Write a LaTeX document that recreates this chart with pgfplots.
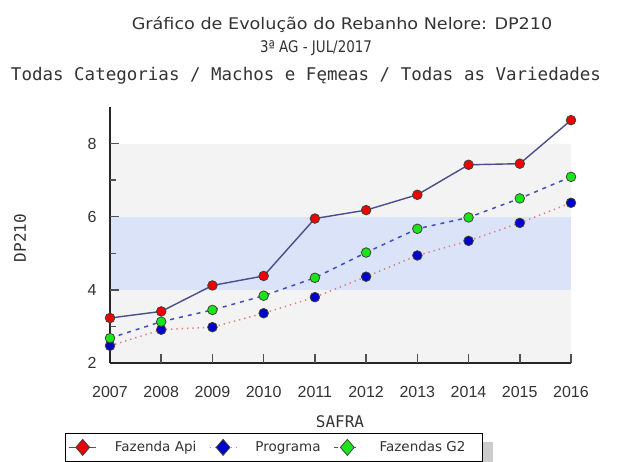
\documentclass[border=0pt]{standalone}
\usepackage{fontspec}
\setmainfont{DejaVu Sans}
\newfontfamily\titlef[FakeStretch=1.1]{DejaVu Sans}
\newfontfamily\titlecond[FakeStretch=0.84]{DejaVu Sans}
\newfontfamily\monof{DejaVu Sans Mono}
\newfontfamily\tickf{Liberation Sans}
\usepackage{pgfplots}
\pgfplotsset{compat=1.18}

\definecolor{bandgray}{HTML}{F3F3F3}
\definecolor{bandblue}{HTML}{DAE3F7}
\definecolor{apiline}{HTML}{4B4C8C}
\definecolor{progline}{HTML}{E07A7A}
\definecolor{g2line}{HTML}{3F4FC0}
\definecolor{mred}{HTML}{EE0000}
\definecolor{mblue}{HTML}{0000CC}
\definecolor{mgreen}{HTML}{19E619}
\definecolor{txt}{HTML}{333333}
\definecolor{tickc}{HTML}{505050}

\begin{document}
\begin{tikzpicture}[x=1pt,y=1pt]

% titles
\node[font=\titlef\fontsize{16}{18}\selectfont, text=txt] at (342,437) {Gráfico de Evolução do Rebanho Nelore: DP210};
\node[font=\titlecond\fontsize{16}{18}\selectfont, text=txt] at (316,414) {3ª AG - JUL/2017};
\node[font=\monof\fontsize{17.5}{20}\selectfont, text=txt] at (306,386) {Todas Categorias / Machos e Fęmeas / Todas as Variedades};

% legend shadow
\fill[black!20] (483,-2) rectangle (493,20);

\begin{axis}[
  set layers,
  at={(110pt,99pt)}, anchor=south west,
  scale only axis, width=461pt, height=256pt,
  xmin=2007, xmax=2016, ymin=2, ymax=9,
  axis lines*=left,
  axis line style={line width=1.5pt, black!85},
  xtick={2007,...,2016},
  xticklabels={2007,2008,2009,2010,2011,2012,2013,2014,2015,2016},
  ytick={2,4,6,8}, yticklabels={2,4,6,8},
  minor ytick={3,5,7},
  tick align=inside,
  major tick length=8.5pt, minor tick length=6pt,
  tick style={line width=1.5pt, tickc},
  ticklabel style={font=\tickf\fontsize{16}{16}\selectfont, text=txt},
  xticklabel style={anchor=center, yshift=-29pt},
  yticklabel style={anchor=center, xshift=-18pt},
  legend columns=3,
  legend style={at={(-0.0976,-0.273)}, anchor=north west,
    draw=black, line width=1pt, fill=white,
    inner xsep=3pt, inner ysep=6pt,
    nodes={inner xsep=0pt},
    font=\fontsize{13.5}{15}\selectfont, text=txt,
    /tikz/every odd column/.append style={column sep=18pt},
    /tikz/every even column/.append style={column sep=12.5pt}},
  legend image code/.code={
    \draw[#1, mark=none] (0pt,0pt) -- (27pt,0pt);
    \draw[#1, mark=diamond*, mark size=8pt, every mark/.append style={xscale=1.15}] plot coordinates {(13.5pt,0pt)};
  },
  clip=false,
]

% background bands
\pgfplotsextra{
\begin{pgfonlayer}{axis background}
\fill[bandgray] (axis cs:2007,2) rectangle (axis cs:2016,4);
\fill[bandblue] (axis cs:2007,4) rectangle (axis cs:2016,6);
\fill[bandgray] (axis cs:2007,6) rectangle (axis cs:2016,8);
\end{pgfonlayer}
}

% tick marks, kept above the bands
\pgfplotsextra{
\begin{pgfonlayer}{axis foreground}
\foreach \t in {2008,2009,2010,2011,2012,2013,2014,2015,2016}
  \draw[line width=1.5pt, tickc] (axis cs:\t,2) -- ++(0pt,8.5pt);
\foreach \t in {4,6,8}
  \draw[line width=1.5pt, tickc] (axis cs:2007,\t) -- ++(8.5pt,0pt);
\foreach \t in {3,5,7}
  \draw[line width=1.5pt, tickc] (axis cs:2007,\t) -- ++(6pt,0pt);
\end{pgfonlayer}
}

% Fazenda Api
\addplot[apiline, line width=1.4pt, mark=*, mark size=4.8pt,
  mark options={solid, fill=mred, draw=black!75, line width=0.8pt}] coordinates {
  (2007,3.23) (2008,3.41) (2009,4.12) (2010,4.38) (2011,5.95)
  (2012,6.18) (2013,6.60) (2014,7.42) (2015,7.45) (2016,8.64)
};
\addlegendentry{Fazenda Api}

% Programa
\addplot[progline, line width=1.5pt, dash pattern=on 1.3pt off 4pt, mark=*, mark size=4.8pt,
  mark options={solid, fill=mblue, draw=black!75, line width=0.8pt}] coordinates {
  (2007,2.47) (2008,2.91) (2009,2.98) (2010,3.36) (2011,3.80)
  (2012,4.36) (2013,4.94) (2014,5.34) (2015,5.83) (2016,6.38)
};
\addlegendentry{Programa}

% Fazendas G2
\addplot[g2line, line width=1.5pt, dash pattern=on 4pt off 5pt, mark=*, mark size=4.8pt,
  mark options={solid, fill=mgreen, draw=black!75, line width=0.8pt}] coordinates {
  (2007,2.68) (2008,3.13) (2009,3.45) (2010,3.84) (2011,4.33)
  (2012,5.02) (2013,5.67) (2014,5.98) (2015,6.50) (2016,7.09)
};
\addlegendentry{Fazendas G2\kern14pt}

\end{axis}

\node[font=\monof\fontsize{16}{18}\selectfont, text=txt] at (340,40) {SAFRA};
\node[font=\monof\fontsize{16}{18}\selectfont, text=txt, rotate=90] at (20,224) {DP210};

\pgfresetboundingbox
\path[use as bounding box] (0,0) rectangle (618,462);
\end{tikzpicture}
\end{document}
